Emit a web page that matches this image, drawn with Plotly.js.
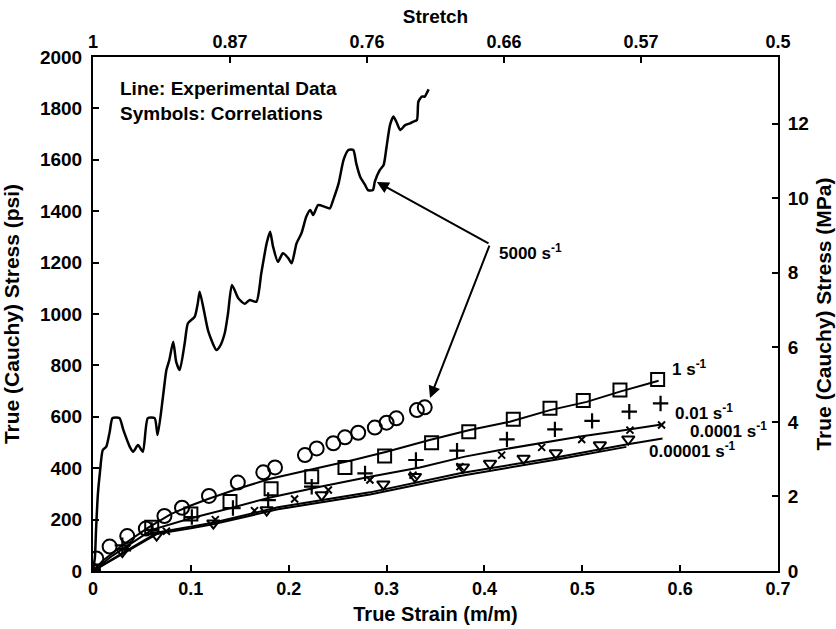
<!DOCTYPE html>
<html><head><meta charset="utf-8">
<script src="https://cdn.plot.ly/plotly-3.0.1.min.js"></script>
<style>html,body{margin:0;padding:0;background:#fff}</style>
</head><body><div id="chart" style="width:836px;height:629px"></div>
<script>
// ---- Experimental lines (true strain, true stress psi) ----
const exp5000Strain = [0,0.002,0.003,0.005,0.007,0.010,0.0136,0.017,0.020,0.027,0.031,0.0375,0.041,0.046,0.051,0.056,0.063,0.066,0.0715,0.075,0.078,0.082,0.085,0.0886,0.0937,0.097,0.104,0.107,0.109,0.113,0.118,0.126,0.1295,0.1346,0.138,0.142,0.1485,0.155,0.160,0.167,0.172,0.1775,0.181,0.184,0.189,0.194,0.1996,0.203,0.208,0.213,0.218,0.222,0.225,0.230,0.237,0.242,0.246,0.251,0.256,0.261,0.266,0.269,0.273,0.278,0.281,0.286,0.288,0.293,0.297,0.300,0.3035,0.307,0.310,0.314,0.319,0.324,0.327,0.331,0.3325,0.336,0.339,0.341,0.343];
const exp5000Stress = [0,56,150,300,381,471,484,540,595,595,549,484,464,490,464,595,595,529,678,782,821,892,814,782,886,964,990,1040,1087,1020,930,860,873,925,1003,1113,1061,1040,1054,1048,1159,1276,1320,1262,1203,1236,1217,1197,1275,1314,1379,1405,1385,1424,1417,1411,1450,1508,1599,1638,1638,1586,1534,1502,1482,1482,1515,1560,1580,1651,1735,1768,1748,1716,1735,1742,1748,1755,1826,1846,1846,1859,1874];

const exp1Strain = [0,0.01,0.03,0.056,0.08,0.10,0.1175,0.148,0.18,0.222,0.266,0.30,0.344,0.385,0.426,0.467,0.5045,0.5385,0.578];
const exp1Stress = [0,40,100,168,222,255,280,320,358,393,432,464,510,549,581,626,658,698,740];

const expMidStrain = [0,0.02,0.06,0.10,0.14,0.18,0.232,0.283,0.334,0.38,0.416,0.457,0.498,0.539,0.581];
const expMidStress = [0,60,160,205,244,285,328,367,403,445,471,497,523,546,570];

const expLowAStrain = [0,0.03,0.066,0.10,0.1226,0.189,0.283,0.375,0.477,0.545,0.582];
const expLowAStress = [0,70,150,172,188,248,306,380,445,492,516];

const expLowBStrain = [0,0.03,0.066,0.10,0.1226,0.189,0.283,0.375,0.477,0.545];
const expLowBStress = [0,65,145,166,182,240,298,370,436,483];

// ---- Correlations (symbols) ----
const circStrain = [0,0.0034,0.017,0.035,0.054,0.073,0.091,0.1185,0.148,0.174,0.186,0.2166,0.2286,0.2456,0.2575,0.271,0.288,0.300,0.310,0.331,0.339];
const circStress = [0,49,95,136,165,214,246,292,344,384,403,451,477,497,520,538,558,577,594,626,637];

const sqStrain = [0,0.060,0.100,0.140,0.182,0.2235,0.2575,0.298,0.346,0.384,0.4295,0.467,0.501,0.5385,0.577];
const sqStress = [0,170,222,270,320,367,403,447,499,542,590,633,663,704,745];

const plusStrain = [0,0.03,0.06,0.101,0.143,0.179,0.2235,0.278,0.330,0.372,0.423,0.472,0.51,0.548,0.58];
const plusStress = [0,100,160,210,245,276,328,380,432,468,512,551,584,620,652];

const xStrain = [0,0.035,0.075,0.125,0.165,0.206,0.2405,0.283,0.327,0.375,0.4176,0.4585,0.4994,0.5487,0.581];
const xStress = [0,90,155,200,235,280,315,354,373,406,451,481,512,548,568];

const triStrain = [0,0.03,0.065,0.123,0.1775,0.2337,0.2967,0.329,0.378,0.4057,0.44,0.473,0.518,0.547];
const triStress = [0,75,140,186,237,296,338,367,404,418,438,459,490,513];

// ---- Axis tick labels ----
const stretchTickVals = [0,0.14,0.28,0.42,0.56,0.7];
const stretchTickText = ['1','0.87','0.76','0.66','0.57','0.5'];
const mpaTickVals = [0,2,4,6,8,10,12];

const PSI_PER_MPA = 145.038;
const Y_MAX = 2000;

const FONT = 'Liberation Sans, Arial, Helvetica, sans-serif';
const bold = (s) => ({family: FONT, size: s, color: '#000', weight: 'bold'});

function lineTrace(x, y, w, shape) {
  return {x: x, y: y, type: 'scatter', mode: 'lines', line: {color: '#000', width: w, shape: shape || 'linear', smoothing: 0.6}, hoverinfo: 'skip', showlegend: false};
}
function markTrace(x, y, sym, size, lw) {
  return {x: x, y: y, type: 'scatter', mode: 'markers', marker: {symbol: sym, size: size, color: '#000', line: {color: '#000', width: lw}}, hoverinfo: 'skip', showlegend: false};
}

const traces = [
  lineTrace(exp5000Strain, exp5000Stress, 2.5, 'spline'),
  lineTrace(exp1Strain, exp1Stress, 2),
  lineTrace(expMidStrain, expMidStress, 2),
  lineTrace(expLowAStrain, expLowAStress, 2),
  lineTrace(expLowBStrain, expLowBStress, 2),
  markTrace(circStrain, circStress, 'circle-open', 14, 2),
  markTrace(sqStrain, sqStress, 'square-open', 13, 2),
  markTrace(plusStrain, plusStress, 'cross-thin-open', 11, 2.2),
  markTrace(xStrain, xStress, 'x-thin-open', 7, 2),
  markTrace(triStrain, triStress, 'triangle-down-open', 11, 2),
  {x: [0, 0.7], y: [0, 0], xaxis: 'x2', yaxis: 'y', type: 'scatter', mode: 'markers', marker: {opacity: 0}, hoverinfo: 'skip', showlegend: false},
  {x: [0, 0], y: [0, Y_MAX / PSI_PER_MPA], xaxis: 'x', yaxis: 'y2', type: 'scatter', mode: 'markers', marker: {opacity: 0}, hoverinfo: 'skip', showlegend: false}
];

const axisCommon = {
  showline: true, linecolor: '#000', linewidth: 2, mirror: false,
  ticks: 'inside', ticklen: 6, tickwidth: 2, tickcolor: '#000',
  showgrid: false, zeroline: false, tickfont: bold(18)
};

const layout = {
  width: 836, height: 629,
  margin: {l: 93, r: 58, t: 57, b: 58, pad: 0},
  paper_bgcolor: '#fff', plot_bgcolor: '#fff',
  font: bold(18),
  showlegend: false,
  xaxis: Object.assign({}, axisCommon, {
    range: [0, 0.7], dtick: 0.1, tick0: 0,
    title: {text: 'True Strain (m/m)', font: bold(20), standoff: 9}
  }),
  xaxis2: Object.assign({}, axisCommon, {
    overlaying: 'x', side: 'top', range: [0, 0.7],
    tickmode: 'array', tickvals: stretchTickVals, ticktext: stretchTickText,
    title: {text: 'Stretch', font: bold(19), standoff: 3}
  }),
  yaxis: Object.assign({}, axisCommon, {
    range: [0, Y_MAX], dtick: 200, tick0: 0, tickfont: bold(19), ticklabelstandoff: 5,
    title: {text: 'True (Cauchy) Stress (psi)', font: bold(21), standoff: 16}
  }),
  yaxis2: Object.assign({}, axisCommon, {
    overlaying: 'y', side: 'right', range: [0, Y_MAX / PSI_PER_MPA], tickfont: bold(19), ticklabelstandoff: 4,
    tickmode: 'array', tickvals: mpaTickVals,
    title: {text: 'True (Cauchy) Stress (MPa)', font: bold(21), standoff: 8}
  }),
  annotations: [
    {xref: 'paper', yref: 'paper', x: 0.0365, y: 0.938, xanchor: 'left', yanchor: 'middle', text: 'Line: Experimental Data', showarrow: false, font: bold(19)},
    {xref: 'paper', yref: 'paper', x: 0.0365, y: 0.891, xanchor: 'left', yanchor: 'middle', text: 'Symbols: Correlations', showarrow: false, font: bold(19)},
    {x: 0.413, y: 1241, xanchor: 'left', yanchor: 'middle', text: '5000 s<sup>-1</sup>', showarrow: false, font: bold(17)},
    {x: 0.5896, y: 790, xanchor: 'left', yanchor: 'middle', text: '1 s<sup>-1</sup>', showarrow: false, font: bold(17)},
    {x: 0.593, y: 619, xanchor: 'left', yanchor: 'middle', text: '0.01 s<sup>-1</sup>', showarrow: false, font: bold(17)},
    {x: 0.608, y: 549, xanchor: 'left', yanchor: 'middle', text: '0.0001 s<sup>-1</sup>', showarrow: false, font: bold(17)},
    {x: 0.566, y: 471, xanchor: 'left', yanchor: 'middle', text: '0.00001 s<sup>-1</sup>', showarrow: false, font: bold(17)},
    {x: 0.290, y: 1514, ax: 0.4057, ay: 1272, axref: 'x', ayref: 'y', text: '', showarrow: true, arrowhead: 2, arrowsize: 1.2, arrowwidth: 2, arrowcolor: '#000'},
    {x: 0.3444, y: 673, ax: 0.4057, ay: 1272, axref: 'x', ayref: 'y', text: '', showarrow: true, arrowhead: 2, arrowsize: 1.2, arrowwidth: 2, arrowcolor: '#000'}
  ]
};

Plotly.newPlot('chart', traces, layout, {staticPlot: true, displayModeBar: false});
</script>
</body></html>
